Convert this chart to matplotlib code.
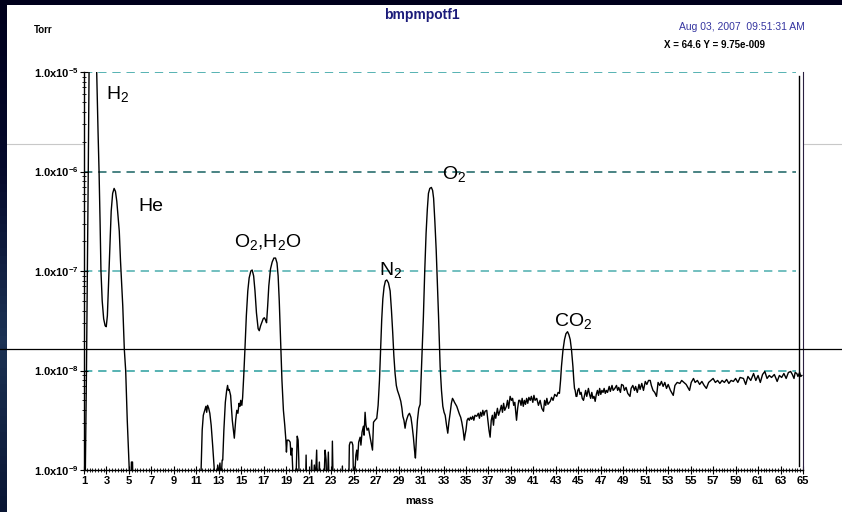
import numpy as np
import matplotlib.pyplot as plt
from matplotlib.lines import Line2D
from matplotlib.colors import LinearSegmentedColormap

plt.rcParams['font.family'] = ['Liberation Sans', 'DejaVu Sans']
plt.rcParams['mathtext.fontset'] = 'custom'
plt.rcParams['mathtext.rm'] = 'Liberation Sans'
plt.rcParams['mathtext.bf'] = 'Liberation Sans:bold'
plt.rcParams['mathtext.it'] = 'Liberation Sans:italic'

# ---------------------------------------------------------------------------
#  spectrum (mass [amu], log10 pressure [Torr])
#  -9.3 = below the 1e-9 floor of the display
# ---------------------------------------------------------------------------
mass = [
    1.00, 1.12, 1.22, 1.30, 1.38, 1.45, 1.55, 1.85, 2.05, 2.13, 2.25, 2.34, 2.43, 2.51, 2.62,
    2.75, 2.88, 2.98, 3.08, 3.16, 3.23, 3.32, 3.42, 3.55, 3.68, 3.80, 3.92, 4.03, 4.14, 4.25,
    4.36, 4.45, 4.59, 4.71, 4.85, 5.03, 5.15, 5.22, 5.32, 5.38,
    11.35, 11.42, 11.52, 11.62, 11.75, 11.85, 11.92, 12.00, 12.10, 12.20, 12.32, 12.45, 12.60,
    12.70, 12.90, 12.98, 13.10, 13.20, 13.30, 13.35, 13.45, 13.58, 13.70, 13.78, 13.85, 13.92,
    14.05, 14.20, 14.38, 14.50, 14.60, 14.70, 14.80, 14.88, 14.95, 15.05, 15.12, 15.22, 15.32,
    15.45, 15.58, 15.70, 15.85, 15.97, 16.10, 16.22, 16.35, 16.50, 16.60, 16.72, 16.85, 16.95,
    17.05, 17.15, 17.25, 17.35, 17.45, 17.60, 17.75, 17.90, 18.05, 18.18, 18.28, 18.38, 18.50,
    18.62, 18.75, 18.87, 18.97, 19.02, 19.08, 19.22, 19.35, 19.42, 19.50, 19.60, 19.68, 19.88,
    19.98, 20.06, 20.12, 20.18, 20.70, 20.77, 20.84, 21.00, 21.10, 21.27, 21.35, 21.50, 21.60,
    21.71, 21.80, 21.95, 22.05, 22.20, 22.30, 22.46, 22.55, 22.62, 22.75, 22.85, 23.05, 23.11,
    23.20, 23.90, 24.00, 24.08, 24.55, 24.62, 24.70, 24.85, 24.93, 25.02, 25.10, 25.20, 25.28,
    25.35, 25.45, 25.58, 25.65, 25.75, 25.87, 25.93, 26.02, 26.10, 26.20, 26.32, 26.45, 26.55,
    26.68, 26.77, 26.90, 27.06, 27.18, 27.30, 27.40, 27.50, 27.60, 27.71, 27.83, 27.95, 28.10,
    28.25, 28.37, 28.48, 28.58, 28.69, 28.80, 28.90, 29.05, 29.20, 29.30, 29.38, 29.48, 29.58,
    29.66, 29.73, 29.85, 29.97, 30.10, 30.20, 30.32, 30.42, 30.50, 30.60, 30.68, 30.80, 30.92,
    31.00, 31.10, 31.21, 31.33, 31.45, 31.56, 31.66, 31.78, 31.92, 32.03, 32.12, 32.23, 32.35,
    32.45, 32.56, 32.70, 32.82, 32.94, 33.05, 33.15, 33.27, 33.38, 33.48, 33.59, 33.70, 33.80,
    33.90, 33.98, 34.08, 34.18, 34.30, 34.42, 34.53, 34.63, 34.75, 34.85, 34.93, 35.00, 35.10,
    35.20, 35.30, 35.40, 35.50, 35.60, 35.70, 35.80, 35.96, 36.10, 36.20, 36.30, 36.40, 36.50,
    36.60, 36.70, 36.85, 36.95, 37.05, 37.15, 37.25, 37.35, 37.45, 37.55, 37.65, 37.80, 37.90,
    38.04, 38.15, 38.25, 38.35, 38.45, 38.60, 38.70, 38.80, 38.93, 39.05, 39.15, 39.25, 39.35,
    39.50, 39.60, 39.70, 39.80, 39.90, 40.00, 40.10, 40.20, 40.30, 40.40, 40.50, 40.60, 40.72,
    40.82, 40.95, 41.05, 41.15, 41.30, 41.45, 41.60, 41.75, 41.90, 42.00, 42.10, 42.20, 42.30,
    42.50, 42.62, 42.75, 42.90, 43.08, 43.20, 43.32, 43.42, 43.50, 43.63, 43.77, 43.90, 44.04,
    44.16, 44.28, 44.40, 44.52, 44.60, 44.66, 44.72, 44.80, 44.87, 44.95, 45.05, 45.15, 45.25,
    45.35, 45.46, 45.55, 45.65, 45.75, 45.90, 46.00, 46.10, 46.20, 46.30, 46.40, 46.50, 46.60,
    46.70, 46.80, 46.90, 47.00, 47.10, 47.20, 47.30, 47.40, 47.50, 47.60, 47.75, 47.85, 48.00,
    48.10, 48.25, 48.40, 48.50, 48.60, 48.75, 48.85, 49.00, 49.10, 49.25, 49.40, 49.60, 49.70,
    49.85, 50.00, 50.10, 50.25, 50.40, 50.50, 50.65, 50.80, 50.96, 51.10, 51.25, 51.40, 51.50,
    51.65, 51.80, 51.96, 52.10, 52.25, 52.40, 52.55, 52.70, 52.85, 53.00, 53.20, 53.45, 53.60,
    53.80, 54.04, 54.20, 54.40, 54.60, 54.90, 55.05, 55.25, 55.40, 55.60, 55.80, 56.00, 56.20,
    56.40, 56.60, 56.80, 57.00, 57.20, 57.40, 57.60, 57.80, 58.00, 58.20, 58.40, 58.60, 58.80,
    59.00, 59.20, 59.40, 59.70, 59.90, 60.10, 60.35, 60.60, 60.80, 61.00, 61.20, 61.40, 61.60,
    61.80, 62.00, 62.20, 62.45, 62.70, 62.90, 63.10, 63.30, 63.50, 63.70, 63.90, 64.05, 64.20,
    64.30, 64.45, 64.55, 64.70, 64.80, 64.90,
]
log_p = [
    -9.30, -9.00, -8.00, -7.00, -6.00, -5.00, -4.60, -4.60, -4.90, -5.00, -5.60, -6.00, -6.50, -7.00, -7.30,
    -7.48, -7.55, -7.56, -7.45, -7.20, -7.00, -6.70, -6.40, -6.22, -6.17, -6.20, -6.30, -6.45, -6.60, -6.90,
    -7.15, -7.35, -7.79, -8.00, -8.50, -9.00, -9.30, -8.92, -8.92, -9.30,
    -9.30, -9.00, -8.60, -8.45, -8.40, -8.36, -8.42, -8.35, -8.38, -8.43, -8.55, -8.75, -9.00,
    -9.30, -8.95, -9.05, -8.93, -9.10, -8.90, -8.90, -8.60, -8.32, -8.20, -8.15, -8.20, -8.19,
    -8.25, -8.50, -8.68, -8.50, -8.40, -8.43, -8.33, -8.36, -8.30, -8.35, -8.27, -8.05, -7.80,
    -7.45, -7.20, -7.07, -7.00, -6.99, -7.05, -7.20, -7.42, -7.58, -7.60, -7.55, -7.51, -7.48,
    -7.47, -7.49, -7.52, -7.35, -7.15, -6.98, -6.91, -6.87, -6.87, -6.92, -7.05, -7.30, -7.70,
    -8.10, -8.40, -8.55, -8.70, -8.82, -8.70, -8.70, -8.72, -8.85, -8.78, -9.05, -9.30, -9.05,
    -8.66, -8.70, -8.90, -9.30, -9.30, -8.85, -9.30, -9.05, -9.30, -8.90, -9.30, -8.95, -9.10,
    -8.80, -9.30, -8.92, -9.30, -9.05, -9.30, -8.80, -8.90, -9.30, -8.82, -9.30, -9.30, -8.71,
    -9.30, -9.30, -8.96, -9.30, -9.30, -8.75, -8.72, -8.72, -8.75, -9.30, -9.05, -8.85, -8.80,
    -8.90, -8.72, -8.67, -8.75, -8.62, -8.56, -8.65, -8.42, -8.55, -8.60, -8.58, -8.66, -8.72,
    -8.80, -8.52, -8.50, -8.48, -8.35, -8.10, -7.80, -7.49, -7.28, -7.16, -7.10, -7.09, -7.12,
    -7.20, -7.40, -7.62, -7.85, -8.03, -8.15, -8.20, -8.25, -8.31, -8.38, -8.46, -8.50, -8.58,
    -8.52, -8.49, -8.45, -8.43, -8.47, -8.55, -8.67, -8.80, -8.88, -8.65, -8.50, -8.38, -8.34,
    -8.10, -7.80, -7.46, -7.00, -6.62, -6.38, -6.22, -6.17, -6.16, -6.19, -6.27, -6.50, -6.79,
    -7.10, -7.46, -7.96, -8.20, -8.36, -8.42, -8.45, -8.55, -8.63, -8.52, -8.43, -8.33, -8.28,
    -8.30, -8.32, -8.34, -8.36, -8.40, -8.44, -8.47, -8.52, -8.60, -8.70, -8.64, -8.60, -8.50,
    -8.48, -8.50, -8.47, -8.49, -8.46, -8.50, -8.45, -8.46, -8.43, -8.48, -8.42, -8.46, -8.40,
    -8.45, -8.41, -8.40, -8.50, -8.60, -8.67, -8.50, -8.45, -8.55, -8.42, -8.48, -8.38, -8.45,
    -8.40, -8.35, -8.42, -8.33, -8.40, -8.36, -8.30, -8.38, -8.26, -8.30, -8.28, -8.35, -8.32,
    -8.50, -8.38, -8.30, -8.30, -8.35, -8.28, -8.36, -8.30, -8.34, -8.28, -8.33, -8.27, -8.30,
    -8.26, -8.32, -8.25, -8.30, -8.28, -8.35, -8.30, -8.38, -8.41, -8.30, -8.35, -8.28, -8.34,
    -8.31, -8.27, -8.30, -8.24, -8.26, -8.22, -8.23, -8.10, -7.96, -7.80, -7.69, -7.63, -7.61,
    -7.64, -7.69, -7.80, -7.96, -8.10, -8.18, -8.20, -8.26, -8.26, -8.20, -8.18, -8.24, -8.22,
    -8.28, -8.30, -8.25, -8.20, -8.26, -8.18, -8.24, -8.28, -8.22, -8.28, -8.26, -8.31, -8.24,
    -8.20, -8.25, -8.18, -8.24, -8.20, -8.22, -8.18, -8.23, -8.20, -8.22, -8.16, -8.21, -8.15,
    -8.20, -8.18, -8.15, -8.20, -8.17, -8.22, -8.14, -8.15, -8.20, -8.17, -8.23, -8.26, -8.18,
    -8.15, -8.20, -8.16, -8.22, -8.14, -8.19, -8.13, -8.20, -8.11, -8.14, -8.10, -8.10, -8.15,
    -8.20, -8.22, -8.26, -8.12, -8.15, -8.11, -8.16, -8.12, -8.18, -8.14, -8.20, -8.25, -8.15,
    -8.12, -8.13, -8.10, -8.12, -8.14, -8.20, -8.12, -8.08, -8.12, -8.10, -8.14, -8.11, -8.15,
    -8.18, -8.12, -8.10, -8.08, -8.12, -8.10, -8.13, -8.10, -8.12, -8.09, -8.13, -8.10, -8.11,
    -8.08, -8.12, -8.07, -8.08, -8.14, -8.06, -8.10, -8.03, -8.10, -8.05, -8.12, -8.04, -8.01,
    -8.08, -8.05, -8.07, -8.04, -8.11, -8.05, -8.07, -8.03, -8.08, -8.02, -8.01, -8.04, -8.08,
    -8.02, -8.03, -8.06, -8.02, -8.06, -8.05,
]
pressure = 10.0 ** np.array(log_p)

# peak labels: (text, mass, log10 p of the baseline)
peak_text = ['H$_2$', 'He', 'O$_2$,H$_2$O', 'N$_2$', 'O$_2$', 'CO$_2$']
peak_mass = [2.95, 5.84, 14.38, 27.27, 32.9, 42.88]
peak_logp = [-5.27, -6.40, -6.76, -7.04, -6.08, -7.55]

decades = [1e-9, 1e-8, 1e-7, 1e-6, 1e-5]
decade_labels = ['1.0x10$^{\\mathbf{-9}}$', '1.0x10$^{\\mathbf{-8}}$', '1.0x10$^{\\mathbf{-7}}$',
                 '1.0x10$^{\\mathbf{-6}}$', '1.0x10$^{\\mathbf{-5}}$']
grid_y = [1e-8, 1e-7, 1e-6, 1e-5]
grid_col = ['#3aa6a6', '#5ab4b4', '#2a6e6e', '#3aa6a6']

cursor_x = 64.6

# ===========================================================================
#  figure
# ===========================================================================
W, H = 842, 512
fig = plt.figure(figsize=(W / 100, H / 100), dpi=100, facecolor='white')

# faint line behind the plot area and the dark window frame
fig.add_artist(Line2D([0, 1], [1 - 144 / H, 1 - 144 / H], color='#c8c8c8', lw=0.8, zorder=-5))
cmap = LinearSegmentedColormap.from_list('frame', ['#00001c', '#050a2c', '#1c3254', '#0a1634'])
fa = fig.add_axes([0, 0, 7 / W, 1], zorder=5)
fa.imshow(np.linspace(0, 1, 64)[:, None], aspect='auto', cmap=cmap, extent=[0, 1, 0, 1])
fa.axis('off')
fb = fig.add_axes([0, 1 - 5 / H, 1, 5 / H], zorder=5)
fb.axis('off')
fb.add_patch(plt.Rectangle((0, 0), 1, 1, color='#00001c', transform=fb.transAxes))

ax = fig.add_axes([84 / W, 42 / H, 719 / W, 398 / H])
ax.set_facecolor('white')

for y, c in zip(grid_y, grid_col):
    ax.hlines(y, 1, 64.4, colors=c, lw=1.2, linestyles=(0, (5, 3.5)), zorder=1)

ax.plot(mass, pressure, color='black', lw=1.0, zorder=3)
ax.axvline(cursor_x, color='black', lw=1.0, ymax=0.99, ymin=0.01, zorder=4)

for t, m, lp in zip(peak_text, peak_mass, peak_logp):
    ax.text(m, 10 ** lp, t, fontsize=14, ha='left', va='baseline', zorder=5)

ax.set_yscale('log')
ax.set_xlim(1, 65)
ax.set_ylim(1e-9, 1e-5)

ax.set_yticks(decades)
ax.set_yticklabels(decade_labels, fontweight='bold', fontsize=8)
ax.yaxis.set_minor_locator(plt.matplotlib.ticker.LogLocator(base=10, subs=np.arange(2, 10)))
ax.yaxis.set_minor_formatter(plt.NullFormatter())
ax.set_xticks(np.arange(1, 66, 2))
ax.set_xticklabels([str(v) for v in range(1, 66, 2)], fontweight='bold', fontsize=8)
ax.set_xticks(np.arange(1, 65.01, 0.25), minor=True)
ax.tick_params(which='major', direction='inout', length=6, width=0.8, pad=1)
ax.tick_params(which='minor', direction='inout', length=3.5, width=0.6)

ax.spines['top'].set_visible(False)
ax.spines['right'].set_color('#2a2040')
ax.spines['left'].set_linewidth(1.0)
ax.spines['bottom'].set_linewidth(1.0)

# crosshair row across the whole window
fig.add_artist(Line2D([0, 1], [1 - 349 / H, 1 - 349 / H], color='black', lw=0.9, zorder=10))

# header texts
fig.text(422 / W, 1 - 15 / H, 'bmpmpotf1', fontsize=10, fontweight='bold', color='#1b1b7a',
         ha='center', va='center')
fig.text(43 / W, 1 - 30 / H, 'Torr', fontsize=7, fontweight='bold', ha='center', va='center')
fig.text(805 / W, 1 - 27 / H, 'Aug 03, 2007  09:51:31 AM', fontsize=7.5, color='#3535a0',
         ha='right', va='center')
fig.text(765 / W, 1 - 45 / H, 'X = 64.6 Y = 9.75e-009', fontsize=7, fontweight='bold',
         ha='right', va='center')
fig.text(420 / W, 11 / H, 'mass', fontsize=8, fontweight='bold', ha='center', va='center')

fig.savefig('out.png', dpi=100, facecolor='white')
